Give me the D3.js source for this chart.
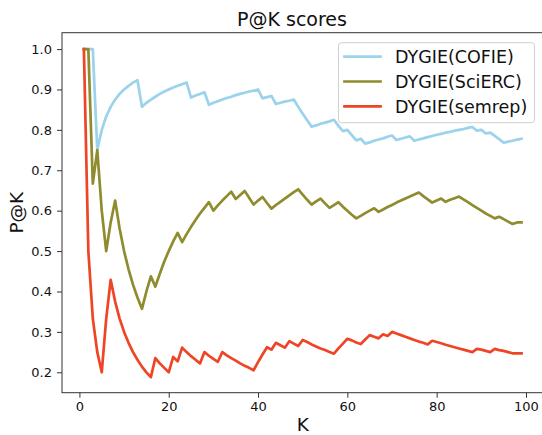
<!DOCTYPE html>
<html>
<head>
<meta charset="utf-8">
<script src="https://cdn.jsdelivr.net/npm/d3@7"></script>
<style>
  html, body { margin: 0; padding: 0; background: #fff; }
  svg { display: block; font-family: "DejaVu Sans", sans-serif; }
</style>
</head>
<body>
<svg id="chart" width="542" height="435"></svg>
<script>
// ---- data ----
const ks = d3.range(1, 100);
const seriesNames = ["DYGIE(COFIE)", "DYGIE(SciERC)", "DYGIE(semrep)"];
const seriesColors = ["#9bd2ec", "#8e8c2e", "#ee4526"];

const cofie = [1.0,1.0,1.0,0.75,0.8,0.833,0.857,0.875,0.889,0.9,
  0.909,0.917,0.923,0.857,0.867,0.875,0.882,0.889,0.895,0.9,
  0.905,0.909,0.913,0.917,0.88,0.885,0.889,0.893,0.862,0.867,
  0.871,0.875,0.879,0.882,0.886,0.889,0.892,0.895,0.897,0.9,
  0.878,0.881,0.884,0.864,0.867,0.870,0.872,0.875,0.857,0.84,
  0.824,0.808,0.811,0.815,0.818,0.821,0.825,0.810,0.797,0.8,
  0.787,0.774,0.778,0.766,0.769,0.773,0.776,0.779,0.783,0.786,
  0.775,0.778,0.781,0.784,0.773,0.776,0.779,0.782,0.785,0.788,
  0.790,0.793,0.795,0.798,0.8,0.802,0.805,0.807,0.798,0.8,
  0.791,0.793,0.785,0.777,0.768,0.771,0.773,0.776,0.778];

const scierc = [1.0,1.0,0.667,0.75,0.6,0.5,0.571,0.625,0.556,0.5,
  0.455,0.417,0.385,0.357,0.4,0.4375,0.412,0.444,0.474,0.5,
  0.524,0.545,0.522,0.542,0.56,0.577,0.593,0.607,0.621,0.6,
  0.613,0.625,0.636,0.647,0.629,0.639,0.649,0.632,0.615,0.625,
  0.634,0.619,0.605,0.614,0.622,0.630,0.638,0.646,0.653,0.64,
  0.627,0.615,0.623,0.630,0.618,0.607,0.614,0.621,0.610,0.6,
  0.590,0.581,0.587,0.594,0.6,0.606,0.597,0.603,0.609,0.614,
  0.620,0.625,0.630,0.635,0.64,0.645,0.636,0.628,0.620,0.625,
  0.630,0.622,0.627,0.631,0.635,0.628,0.621,0.614,0.607,0.6,
  0.593,0.587,0.581,0.585,0.579,0.573,0.567,0.571,0.571];

const semrep = [1.0,0.5,0.333,0.25,0.2,0.333,0.429,0.375,0.333,0.3,
  0.273,0.25,0.231,0.214,0.2,0.188,0.235,0.222,0.211,0.2,
  0.238,0.227,0.261,0.25,0.24,0.231,0.222,0.25,0.241,0.233,
  0.226,0.25,0.242,0.235,0.229,0.222,0.216,0.211,0.205,0.225,
  0.244,0.262,0.256,0.273,0.267,0.261,0.277,0.271,0.265,0.28,
  0.275,0.269,0.264,0.259,0.255,0.25,0.246,0.259,0.271,0.283,
  0.279,0.274,0.270,0.281,0.292,0.288,0.284,0.294,0.290,0.3,
  0.296,0.292,0.288,0.284,0.28,0.276,0.273,0.269,0.278,0.275,
  0.272,0.268,0.265,0.262,0.259,0.256,0.253,0.25,0.258,0.256,
  0.253,0.25,0.258,0.255,0.253,0.25,0.247,0.247,0.247];

const xTicks = [0, 20, 40, 60, 80, 100];
const yTicks = [0.2, 0.3, 0.4, 0.5, 0.6, 0.7, 0.8, 0.9, 1.0];

// ---- layout ----
const svg = d3.select("#chart");
const L = 62, R = 543.4, T = 32.7, B = 392.7;

const x = d3.scaleLinear().domain([-3.9, 103.9]).range([L, R]);
const y = d3.scaleLinear().domain([0.1495, 1.0405]).range([B, T]);

// lines
const allSeries = [cofie, scierc, semrep];
const line = d3.line().x((d, i) => x(ks[i])).y(d => y(d));
const g = svg.append("g");
allSeries.forEach((s, si) => {
  g.append("path")
    .datum(s)
    .attr("d", line)
    .attr("fill", "none")
    .attr("stroke", seriesColors[si])
    .attr("stroke-width", 2.7)
    .attr("stroke-linejoin", "round")
    .attr("stroke-linecap", "square");
});

// axes
const xAxis = d3.axisBottom(x).tickValues(xTicks).tickFormat(d3.format("d")).tickSize(5).tickPadding(4);
const yAxis = d3.axisLeft(y).tickValues(yTicks).tickFormat(d3.format(".1f")).tickSize(5).tickPadding(5);

const gx = svg.append("g").attr("transform", `translate(0,${B})`).call(xAxis);
const gy = svg.append("g").attr("transform", `translate(${L},0)`).call(yAxis);
[gx, gy].forEach(a => {
  a.select(".domain").remove();
  a.selectAll(".tick line").attr("stroke", "#333").attr("stroke-width", 1);
  a.selectAll(".tick text").attr("fill", "#111").style("font-size", "13px").style("font-family", "DejaVu Sans");
});

// spines
svg.append("rect")
  .attr("x", L).attr("y", T).attr("width", R - L).attr("height", B - T)
  .attr("fill", "none").attr("stroke", "#333").attr("stroke-width", 1);

// title & labels
svg.append("text").attr("x", 292).attr("y", 26).attr("text-anchor", "middle")
  .style("font-size", "19px").attr("fill", "#111").text("P@K scores");
svg.append("text").attr("x", (L + R) / 2).attr("y", 431).attr("text-anchor", "middle")
  .style("font-size", "18.5px").attr("fill", "#111").text("K");
svg.append("text").attr("transform", `translate(23,${(T + B) / 2}) rotate(-90)`)
  .attr("text-anchor", "middle").style("font-size", "18.5px").attr("fill", "#111").text("P@K");

// legend
const lg = svg.append("g");
lg.append("rect").attr("x", 338.5).attr("y", 42.7).attr("width", 196).attr("height", 80)
  .attr("rx", 3).attr("fill", "rgba(255,255,255,0.8)").attr("stroke", "#d0d0d0").attr("stroke-width", 1);
seriesNames.forEach((name, i) => {
  const yy = 56.7 + i * 24.8;
  lg.append("line").attr("x1", 344.5).attr("x2", 380.5).attr("y1", yy).attr("y2", yy)
    .attr("stroke", seriesColors[i]).attr("stroke-width", 2.7).attr("stroke-linecap", "square");
  lg.append("text").attr("x", 395).attr("y", yy + 6.5)
    .style("font-size", "17.5px").attr("fill", "#111").text(name);
});
</script>
</body>
</html>
